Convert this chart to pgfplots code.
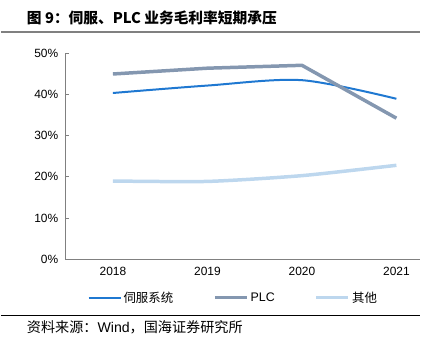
\documentclass[border=0pt]{standalone}
\usepackage{pgfplots}
\pgfplotsset{compat=1.18}
\usepackage{fontspec}
\setmainfont{Liberation Sans}
\newfontfamily\cjk{Noto Sans CJK SC}
\definecolor{servo}{HTML}{1F78D1}
\definecolor{plc}{HTML}{8497B0}
\definecolor{other}{HTML}{BDD7EE}
\definecolor{axgray}{HTML}{808080}
\begin{document}
\begin{tikzpicture}[x=1bp,y=1bp]
\path (0,0) rectangle (436,354);
\node[anchor=west,inner sep=0] at (26,336) {\fontsize{14.8}{17}\selectfont\bfseries\cjk 图 9：伺服、PLC 业务毛利率短期承压};
\draw[axgray,line width=1.6bp] (0,322) -- (420,322);
\draw[black,line width=0.8bp] (0,38) -- (420,38);
\node[anchor=west,inner sep=0] at (26,26) {\fontsize{14.2}{16}\selectfont\cjk 资料来源：\fontspec{Liberation Sans}Wind\cjk，国海证券研究所};
\begin{axis}[
  at={(65bp,94bp)}, anchor=origin,
  scale only axis, width=355bp, height=207bp,
  xmin=2017.5, xmax=2021.25, ymin=0, ymax=50,
  axis lines=left, axis line style={-, axgray, line width=1.3bp},
  xtick={2018,2019,2020,2021},
  xticklabels={2018,2019,2020,2021},
  xtick style={draw=none},
  minor xtick={2018.5,2019.5,2020.5},
  minor tick length=4bp,
  minor x tick style={axgray, line width=0.8bp},
  tick align=inside,
  ytick={0,10,20,30,40,50},
  yticklabels={0\%,10\%,20\%,30\%,40\%,50\%},
  major tick length=3.5bp,
  ytick style={axgray, line width=0.8bp},
  ticklabel style={font=\fontsize{12}{14}\selectfont},
  xticklabel style={yshift=-4bp},
  yticklabel style={xshift=-4bp},
  legend columns=3,
  legend style={at={(0.473,-0.184)}, anchor=center, draw=none, fill=none,
    font=\fontsize{12.5}{15}\selectfont\cjk,
    /tikz/every even column/.append style={column sep=38bp}},
  legend image code/.code={\draw[#1] (0bp,0bp) -- (32bp,0bp);},
]
\addplot[servo, line width=2bp, smooth, tension=0.5] coordinates {(2018,40.3) (2019,42.1) (2020,43.4) (2021,38.9)};
\addlegendentry{伺服系统}
\addplot[plc, line width=3.5bp] coordinates {(2018,44.9) (2019,46.3) (2020,47.0) (2021,34.2)};
\addlegendentry{\fontspec{Liberation Sans}PLC}
\addplot[other, line width=3.5bp, smooth, tension=0.4] coordinates {(2018,19.0) (2019,18.9) (2020,20.3) (2021,22.8)};
\addlegendentry{其他}
\end{axis}
\end{tikzpicture}
\end{document}
